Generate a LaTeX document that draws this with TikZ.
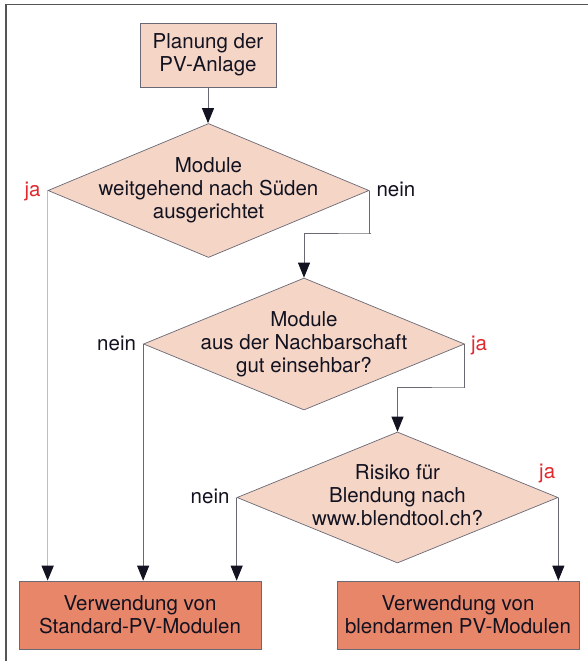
\documentclass[tikz,border=0pt]{standalone}
\usepackage{fontspec}
\setmainfont{TeX Gyre Heros}
\usetikzlibrary{shapes.geometric,arrows.meta}
\definecolor{peach}{RGB}{245,213,198}
\definecolor{salmon}{RGB}{232,134,106}
\definecolor{edgec}{RGB}{105,105,118}
\definecolor{ink}{RGB}{18,18,32}
\definecolor{jared}{RGB}{225,40,45}
\definecolor{framec}{RGB}{85,85,85}
\definecolor{lightline}{RGB}{190,190,197}
\begin{document}
\begin{tikzpicture}[x=1pt,y=-1pt,
  txt/.style={font=\fontsize{20.5pt}{23pt}\selectfont, text=ink, align=center, inner sep=0pt},
  lbl/.style={font=\fontsize{20.5pt}{23pt}\selectfont, text=ink, inner sep=0pt},
  jalbl/.style={lbl, text=jared},
  decision/.style={diamond, draw=edgec, fill=peach, line width=0.7pt, inner sep=0pt,
    minimum width=321pt, minimum height=134pt},
  startbox/.style={rectangle, draw=edgec, fill=peach, line width=0.7pt,
    minimum width=136pt, minimum height=64pt, txt},
  endbox/.style={rectangle, draw=edgec, fill=salmon, line width=0.7pt,
    minimum width=242pt, minimum height=68pt, txt},
  conn/.style={draw=edgec, line width=0.8pt, -{Triangle[length=15pt,width=12pt,color=ink]}},
  lconn/.style={draw=lightline, line width=1.6pt, -{Triangle[length=15pt,width=12pt,color=ink]}}
]
\useasboundingbox (0,0) rectangle (587,661);
\fill[white] (0,0) rectangle (587,661);
\draw[framec, line width=1.5pt] (6,665) -- (6,4.7) -- (592,4.7);

% nodes
\node[startbox] (start) at (208,55) {Planung der\\PV-Anlage};
\node[decision] (d1) at (208.5,190.5) {};
\node[txt] (d1t) at (d1) {Module\\weitgehend nach Süden\\ausgerichtet};
\node[decision, minimum height=132pt] (d2) at (304,344) {};
\node[txt] (d2t) at (d2) {Module\\aus der Nachbarschaft\\gut einsehbar?};
\node[decision, minimum height=131pt] (d3) at (397.5,497.5) {};
\node[txt] (d3t) at ([yshift=2pt]d3.center) {Risiko für\\Blendung nach\\www.blendtool.ch?};
\node[endbox] (b1) at (140,615) {Verwendung von\\Standard-PV-Modulen};
\node[endbox] (b2) at (458,615) {Verwendung von\\blendarmen PV-Modulen};

\coordinate (k1) at (371,233);
\coordinate (k2) at (465,387);

% connectors
\draw[conn] (start.south) -- (start.south |- d1.north);
\draw[lconn] (d1.west) -- (d1.west |- b1.north);
\draw[conn] (d1.east) |- (k1) -| (d2.north);
\draw[conn] (d2.west) -- (d2.west |- b1.north);
\draw[conn] (d2.east) |- (k2) -| (d3.north);
\draw[conn] (d3.west) -- (d3.west |- b1.north);
\draw[conn] (d3.east) -- (d3.east |- b2.north);

% labels
\node[jalbl, anchor=base east] (l1) at ([xshift=-7pt,yshift=-6pt]d1.west) {ja};
\node[lbl, anchor=base west] (l2) at ([xshift=7pt,yshift=-6pt]d1.east) {nein};
\node[lbl, anchor=base east] (l3) at ([xshift=-7pt,yshift=-6pt]d2.west) {nein};
\node[jalbl, anchor=base west] (l4) at ([xshift=6pt,yshift=-6pt]d2.east) {ja};
\node[lbl, anchor=base east] (l5) at ([xshift=-7pt,yshift=-6pt]d3.west) {nein};
\node[jalbl, anchor=base east] (l6) at ([xshift=-3pt,yshift=19pt]d3.east) {ja};
\end{tikzpicture}
\end{document}
